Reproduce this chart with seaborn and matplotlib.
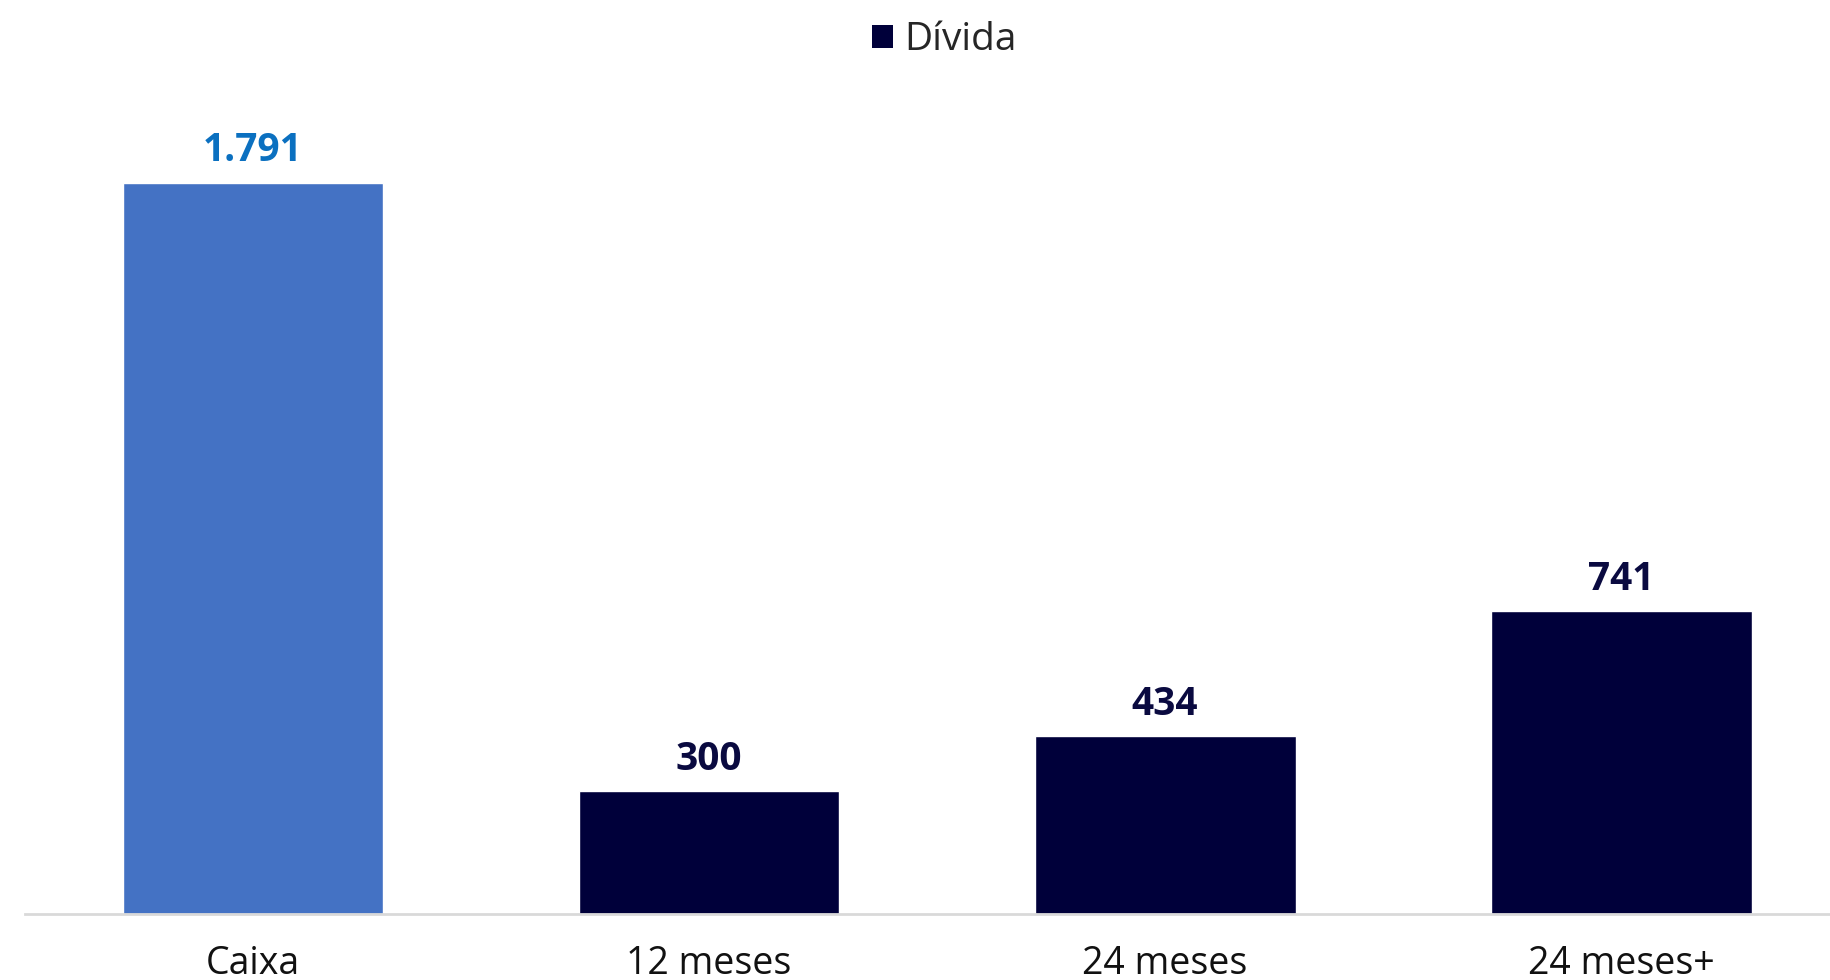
import matplotlib
matplotlib.use("Agg")
import matplotlib.pyplot as plt
import seaborn as sns
import pandas as pd
from matplotlib.patches import Patch

categories = ["Caixa", "12 meses", "24 meses", "24 meses+"]
values = [1791, 300, 434, 741]
labels = ["1.791", "300", "434", "741"]
bar_colors = ["#4472C4", "#00003A", "#00003A", "#00003A"]
label_colors = ["#0B70C0", "#0A0A40", "#0A0A40", "#0A0A40"]
legend_label = "Dívida"

sns.set_theme(style="white")
plt.rcParams["font.family"] = ["Open Sans", "DejaVu Sans"]

df = pd.DataFrame({"cat": categories, "val": values})

fig = plt.figure(figsize=(18.3, 9.8), dpi=100)
ax = fig.add_axes([25 / 1830, 66.5 / 980, 1805 / 1830, (913.5 - 100) / 980])

sns.barplot(data=df, x="cat", y="val", hue="cat", palette=bar_colors,
            width=0.572, legend=False, ax=ax, saturation=1)

ax.set_xlim(-0.5, 3.458)
ax.set_ylim(0, 1994)

for i, (v, lab, c) in enumerate(zip(values, labels, label_colors)):
    ax.annotate(lab, (i, v), xytext=(0, 9), textcoords="offset points",
                ha="center", va="bottom", fontsize=28, fontweight="bold", color=c)

for s in ["top", "right", "left"]:
    ax.spines[s].set_visible(False)
ax.spines["bottom"].set_color("#D9D9D9")
ax.spines["bottom"].set_linewidth(2)
ax.set_yticks([])
ax.set_xlabel("")
ax.set_ylabel("")
ax.tick_params(axis="x", length=0, pad=23, labelsize=27, labelcolor="#111111")

handle = Patch(facecolor="#00003A", edgecolor="none")
fig.legend([handle], [legend_label], loc="upper center", bbox_to_anchor=(0.516, 1.0),
           frameon=False, fontsize=28, handlelength=0.55, handleheight=0.55,
           handletextpad=0.3, borderaxespad=0.15)

fig.savefig("out.png", dpi=100, facecolor="white")
